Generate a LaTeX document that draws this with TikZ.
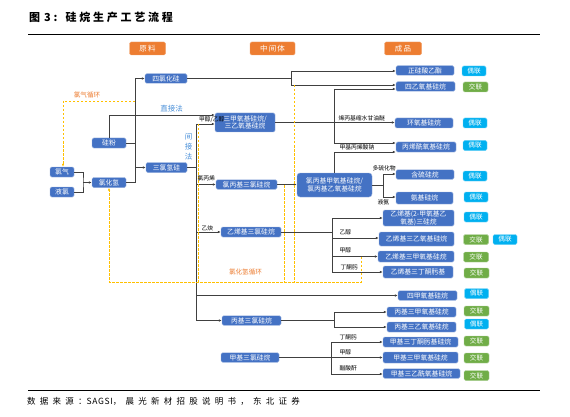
\documentclass[tikz,border=0pt]{standalone}
\usepackage{fontspec}
\setmainfont{Noto Sans CJK SC}
\newfontfamily\cjktitle[LetterSpace=25]{Noto Sans CJK SC}
\newfontfamily\cjkfoot[LetterSpace=50]{Noto Sans CJK SC}
\newfontfamily\cjklatin[LetterSpace=8]{Noto Sans CJK SC}
\newfontfamily\cjkhead[LetterSpace=15]{Noto Sans CJK SC}
\usetikzlibrary{arrows.meta}
\definecolor{boxblue}{HTML}{4472C4}
\definecolor{cyanb}{HTML}{00B0F0}
\definecolor{greenb}{HTML}{70AD47}
\definecolor{orangeb}{HTML}{ED7D31}
\definecolor{dashy}{HTML}{FFC000}
\definecolor{lblue}{HTML}{4A90D9}
\definecolor{linec}{HTML}{404040}
\tikzset{
  bluebox/.style={fill=boxblue, draw=boxblue!55!white, line width=0.4pt, rounded corners=1.5pt,
    text=white, inner sep=0pt, font=\fontsize{6.8}{7.8}\selectfont, align=center},
  badgeo/.style={fill=cyanb, draw=cyanb!55!white, line width=0.4pt, rounded corners=1.5pt,
    text=white, inner sep=0pt, minimum width=24pt, minimum height=10pt, font=\fontsize{6.6}{7.6}\selectfont},
  badgej/.style={fill=greenb, draw=greenb!55!white, line width=0.4pt, rounded corners=1.5pt,
    text=white, inner sep=0pt, minimum width=25pt, minimum height=10pt, font=\fontsize{6.6}{7.6}\selectfont},
  headbox/.style={fill=orangeb, draw=orangeb!70!white, line width=0.4pt, rounded corners=1.5pt,
    text=white, inner sep=0pt, minimum height=13pt, font=\cjkhead\fontsize{7.5}{8.5}\selectfont},
  conn/.style={draw=linec, line width=0.6pt},
  arr/.style={conn, -{Latex[length=3pt,width=2.6pt]}},
  recyc/.style={draw=dashy, line width=0.8pt, dash pattern=on 2.5pt off 1.5pt},
  recarr/.style={recyc, -{Latex[length=3pt,width=2.6pt]}},
  lab/.style={font=\fontsize{5.8}{6.6}\selectfont, inner sep=0.3pt, anchor=west, text=black},
  orlab/.style={font=\fontsize{6.6}{7.6}\selectfont, inner sep=0pt, text=orangeb},
  bllab/.style={font=\fontsize{7.5}{10}\selectfont, inner sep=0pt, text=lblue, align=center}
}
\begin{document}
\begin{tikzpicture}[x=1pt,y=-1pt]
\fill[white] (0,0) rectangle (570,417);
\useasboundingbox (0,0) rectangle (570,417);

% title and rules
\node[anchor=west, inner sep=0pt, font=\cjktitle\bfseries\fontsize{11}{13}\selectfont] (title) at (29,17.5)
  {图\hspace{4pt}3:\hspace{8pt}硅烷生产工艺流程};
\coordinate (rt1) at (28,35); \coordinate (rt2) at (540,35);
\draw[line width=1pt, black] (rt1) -- (rt2);
\coordinate (rb1) at (28,390); \coordinate (rb2) at (540,390);
\draw[line width=1pt, black] (rb1) -- (rb2);
\node[anchor=west, inner sep=0pt, font=\cjkfoot\fontsize{8.5}{10}\selectfont] (foot) at (27,401)
  {数据来源：{\cjklatin SAGSI}，晨光新材招股说明书，东北证券};

% headers
\node[headbox, minimum width=36pt] (h1) at (147.5,48.5) {原料};
\node[headbox, minimum width=45pt] (h2) at (272.5,48.5) {中间体};
\node[headbox, minimum width=37pt] (h3) at (403,48.5) {成品};

% raw materials
\node[bluebox, minimum width=42pt, minimum height=9.5pt] (sicl4) at (166,78.5) {四氯化硅};
\node[bluebox, minimum width=34pt, minimum height=10pt] (gf) at (109,143) {硅粉};
\node[bluebox, minimum width=41pt, minimum height=10pt] (sihcl3) at (166.5,167.5) {三氯氢硅};
\node[bluebox, minimum width=24pt, minimum height=10pt] (cl2) at (62,172) {氯气};
\node[bluebox, minimum width=24pt, minimum height=10pt] (lcl) at (62,192) {液氯};
\node[bluebox, minimum width=34pt, minimum height=10pt] (hcl) at (109,182.5) {氯化氢};

% intermediates
\node[bluebox, minimum width=60pt, minimum height=19pt] (tmos) at (245,122.5) {三甲氧基硅烷/\\三乙氧基硅烷};
\node[bluebox, minimum width=61pt, minimum height=9.5pt] (cptcs) at (246.5,184.5) {氯丙基三氯硅烷};
\node[bluebox, minimum width=60pt, minimum height=10pt] (vtcs) at (251,232) {乙烯基三氯硅烷};
\node[bluebox, minimum width=75pt, minimum height=24pt, rounded corners=3pt] (cpms) at (334.5,185) {氯丙基甲氧基硅烷/\\氯丙基乙氧基硅烷};
\node[bluebox, minimum width=59pt, minimum height=9.5pt] (ptcs) at (251.5,320.5) {丙基三氯硅烷};
\node[bluebox, minimum width=58pt, minimum height=9.5pt] (mtcs) at (250,357.5) {甲基三氯硅烷};

% products
\node[bluebox, minimum width=58pt, minimum height=9.5pt] (p1) at (425,70.5) {正硅酸乙酯};
\node[badgeo] (q1) at (474,71) {偶联};
\node[bluebox, minimum width=59pt, minimum height=9.5pt] (p2) at (425.5,86.5) {四乙氧基硅烷};
\node[badgej] (q2) at (475.5,87) {交联};
\node[bluebox, minimum width=58pt, minimum height=10pt] (p3) at (424,123) {环氧基硅烷};
\node[badgeo] (q3) at (475,123) {偶联};
\node[bluebox, minimum width=60pt, minimum height=10pt] (p4) at (426,147) {丙烯酰氧基硅烷};
\node[badgeo] (q4) at (475,145.5) {偶联};
\node[bluebox, minimum width=58pt, minimum height=9.5pt] (p5) at (425,174.5) {含硫硅烷};
\node[badgeo] (q5) at (475,176) {偶联};
\node[bluebox, minimum width=57pt, minimum height=12pt] (p6) at (424.5,198) {氨基硅烷};
\node[badgeo] (q6) at (476,197) {偶联};
\node[bluebox, minimum width=71pt, minimum height=16pt] (p7) at (418.5,218) {乙烯基(2-甲氧基乙\\氧基)三硅烷};
\node[badgeo] (q7) at (476,217) {偶联};
\node[bluebox, minimum width=75pt, minimum height=14pt] (p8) at (416.5,239) {乙烯基三乙氧基硅烷};
\node[badgej] (q8) at (476,239.5) {交联};
\node[badgeo] (q8b) at (505,239.5) {偶联};
\node[bluebox, minimum width=76pt, minimum height=11pt] (p9) at (416,256.5) {乙烯基三甲氧基硅烷};
\node[badgej] (q9) at (476,257) {交联};
\node[bluebox, minimum width=70pt, minimum height=12pt] (p10) at (418,272) {乙烯基三丁酮肟基};
\node[badgej] (q10) at (476.5,273) {交联};
\node[bluebox, minimum width=59pt, minimum height=9.5pt] (p11) at (427.5,295.5) {四甲氧基硅烷};
\node[badgeo] (q11) at (476.5,293.5) {偶联};
\node[bluebox, minimum width=69pt, minimum height=10pt] (p12) at (421.5,312) {丙基三甲氧基硅烷};
\node[badgej] (q12) at (476.5,311) {交联};
\node[bluebox, minimum width=69pt, minimum height=10pt] (p13) at (421.5,327) {丙基三乙氧基硅烷};
\node[badgeo] (q13) at (476.5,324) {偶联};
\node[bluebox, minimum width=75pt, minimum height=10pt] (p14) at (420.5,342) {甲基三丁酮肟基硅烷};
\node[badgej] (q14) at (476.5,341) {交联};
\node[bluebox, minimum width=75pt, minimum height=11pt] (p15) at (420.5,357.5) {甲基三甲氧基硅烷};
\node[badgej] (q15) at (476.5,358) {交联};
\node[bluebox, minimum width=77pt, minimum height=9.5pt] (p16) at (421.5,373.5) {甲基三乙酰氧基硅烷};
\node[badgej] (q16) at (476.5,375.5) {交联};

% chlorine -> HCl
\coordinate (j1) at (83,182.5);
\draw[conn] (cl2.east) -| (j1) |- (lcl.east);
\draw[arr] (j1) -- (hcl.west);

% HCl / silicon -> SiCl4, SiHCl3
\coordinate (v1t) at (135,78.5); \coordinate (v1b) at (135,182.5);
\draw[conn] (hcl.east) -- (v1b) -- (v1t);
\draw[arr] (v1t) -- (sicl4.west);
\draw[arr] (v1t |- sihcl3.west) -- (sihcl3.west);
\draw[conn] (gf.east) -- (gf.east -| v1t);

% direct process
\coordinate (d1) at (109,115);
\draw[arr] (gf.north) -- (d1) -- (d1 -| tmos.west);

% indirect process main line
\coordinate (mt) at (196,124); \coordinate (mb) at (196,320.5); \coordinate (m4) at (196,295.5);
\draw[conn] (sihcl3.east) -- (sihcl3.east -| mt);
\draw[conn] (mt) -- (mb);
\draw[arr] (mt) -- (mt -| tmos.west);
\draw[arr] (mt |- cptcs.west) -- (cptcs.west);
\draw[arr] (mt |- vtcs.west) -- (vtcs.west);
\draw[arr] (m4) -- (p11.west);
\draw[arr] (mb) -- (ptcs.west);

% SiCl4 bracket
\coordinate (b1) at (291,78.5); \coordinate (b1t) at (291,71); \coordinate (b1b) at (291,85);
\draw[conn] (sicl4.east) -- (b1);
\draw[conn] (b1t) -- (b1b);
\draw[arr] (b1t) -- (b1t -| p1.west);
\draw[arr] (b1b) -- (b1b -| p2.west);

% trimethoxysilane bracket
\coordinate (b2t) at (334,89); \coordinate (b2b) at (334,143);
\draw[conn] (tmos.east) -- (tmos.east -| b2t);
\draw[conn] (b2t) -- (b2b);
\draw[arr] (b2t) -- (b2t -| p2.west);
\draw[arr] (tmos.east -| b2t) -- (tmos.east -| p3.west);
\draw[arr] (b2b) -- (b2b -| p4.west);

% chloropropyl
\draw[arr] (cptcs.east) -- (cptcs.east -| cpms.west);
\coordinate (c1) at (334,152);
\draw[arr] (cpms.north -| c1) -- (c1) -- (c1 -| p4.west);
\coordinate (b3) at (383,185); \coordinate (b3t) at (383,174); \coordinate (b3b) at (383,197);
\draw[conn] (cpms.east) -- (b3);
\draw[conn] (b3t) -- (b3b);
\draw[arr] (b3t) -- (b3t -| p5.west);
\draw[arr] (b3b) -- (b3b -| p6.west);

% vinyl
\coordinate (b4t) at (332,218); \coordinate (b4b) at (332,272);
\coordinate (b4a) at (332,238); \coordinate (b4c) at (332,256.5);
\draw[conn] (vtcs.east) -- (vtcs.east -| b4t);
\draw[conn] (b4t) -- (b4b);
\draw[arr] (b4t) -- (b4t -| p7.west);
\draw[arr] (b4a) -- (b4a -| p8.west);
\draw[arr] (b4c) -- (b4c -| p9.west);
\draw[arr] (b4b) -- (b4b -| p10.west);

% propyl
\coordinate (b5) at (334,320.5); \coordinate (b5t) at (334,312); \coordinate (b5b) at (334,327);
\draw[conn] (ptcs.east) -- (b5);
\draw[conn] (b5t) -- (b5b);
\draw[arr] (b5t) -- (b5t -| p12.west);
\draw[arr] (b5b) -- (b5b -| p13.west);

% methyl
\coordinate (b6t) at (331,342); \coordinate (b6b) at (331,374);
\draw[conn] (mtcs.east) -- (mtcs.east -| b6t);
\draw[conn] (b6t) -- (b6b);
\draw[arr] (b6t) -- (b6t -| p14.west);
\draw[arr] (b6t |- p15.west) -- (p15.west);
\draw[arr] (b6b) -- (b6b -| p16.west);

% recycle loops
\coordinate (r1) at (135,101); \coordinate (r2) at (63,101);
\draw[recarr] (r1) -- (r2) -- (r2 |- cl2.north);
\coordinate (k1) at (198,124); \coordinate (k1b) at (198,282);
\coordinate (k2) at (284,185); \coordinate (k2b) at (284,282);
\coordinate (k3) at (294,85); \coordinate (k3b) at (294,282);
\coordinate (k4) at (361,256.5); \coordinate (k4b) at (361,282);
\coordinate (h0) at (109,282);
\draw[recyc] (k1) -- (k1b);
\draw[recyc] (k2) -- (k2b);
\draw[recyc] (k3) -- (k3b);
\draw[recarr] (k4) -- (k4b) -- (h0) -- (hcl.south);

% labels
\node[orlab] (lb1) at (87,95) {氯气循环};
\node[orlab] (lb2) at (245.5,272) {氯化氢循环};
\node[bllab] (lb3) at (171.5,109) {直接法};
\node[bllab] (lb4) at (188.5,147) {间\\接\\法};
\node[lab] (t1) at (198.5,119.5) {甲醇/乙醇};
\node[lab] (t2) at (197,178.5) {氯丙烯};
\node[lab] (t3) at (201,228.5) {乙炔};
\node[lab] (t4) at (338,118) {烯丙基缩水甘油醚};
\node[lab] (t5) at (339,147.5) {甲基丙烯酸钠};
\node[lab] (t6) at (372,168.5) {多硫化物};
\node[lab] (t7) at (377,202.5) {液氨};
\node[lab] (t8) at (339,232.5) {乙醇};
\node[lab] (t9) at (339,250.5) {甲醇};
\node[lab] (t10) at (340,267) {丁酮肟};
\node[lab] (t11) at (339,337) {丁酮肟};
\node[lab] (t12) at (339,352.5) {甲醇};
\node[lab] (t13) at (339,368.5) {醋酸酐};
\end{tikzpicture}
\end{document}
